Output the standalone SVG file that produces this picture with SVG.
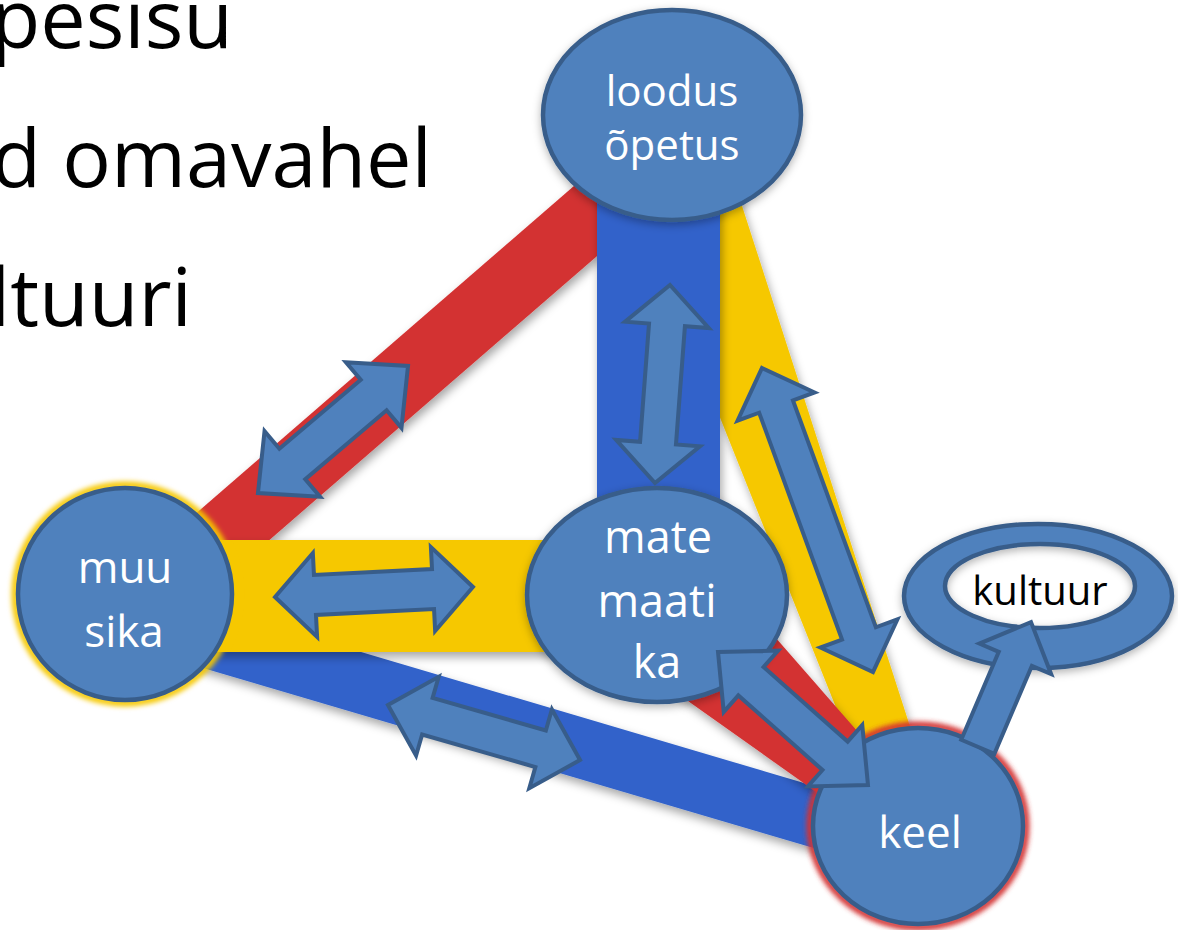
<svg xmlns="http://www.w3.org/2000/svg" width="1178" height="930" viewBox="0 0 1178 930">
<defs>
<style>
.title{font-family:"Open Sans","Liberation Sans",sans-serif;font-size:81px;fill:#000;}
.node{fill:#4F81BD;stroke:#385D8A;stroke-width:4.5;}
.lbl{font-family:"Open Sans","Liberation Sans",sans-serif;fill:#fff;text-anchor:middle;}
.arrow{fill:#4F81BD;stroke:#385D8A;stroke-width:4;stroke-linejoin:miter;}
.red{fill:#D33232;}
.yel{fill:#F6C800;}
.blu{fill:#3162CA;}
</style>
<filter id="shadow" x="-20%" y="-20%" width="140%" height="140%">
<feDropShadow dx="2" dy="5" stdDeviation="5" flood-color="#000" flood-opacity="0.35"/>
</filter>
<filter id="nshadow" x="-20%" y="-20%" width="140%" height="140%">
<feDropShadow dx="0" dy="3" stdDeviation="4" flood-color="#000" flood-opacity="0.3"/>
</filter>
<filter id="glow" x="-20%" y="-20%" width="140%" height="140%">
<feGaussianBlur stdDeviation="2.5"/>
</filter>
</defs>
<rect width="1178" height="930" fill="#fff"/>

<g id="title-text">
<text class="title" x="233" y="48" text-anchor="end">pesisu</text>
<text class="title" x="432" y="187" text-anchor="end">d omavahel</text>
<text class="title" x="192" y="326" text-anchor="end">ltuuri</text>
</g>

<g id="bands">
<polygon class="red" filter="url(#shadow)" points="103,594 657,114 701,166 147,646"/>
<polygon class="blu" filter="url(#shadow)" points="148.5,589 888.5,808 871.5,865 131.5,647"/>
<polygon class="yel" filter="url(#shadow)" points="613,150 724,150 916,745 851,745"/>
<rect class="blu" filter="url(#shadow)" x="597" y="115" width="123" height="480"/>
<polygon class="red" filter="url(#shadow)" points="740,597 900,780 860,823 640,667"/>
<rect class="yel" filter="url(#shadow)" x="125" y="540" width="532" height="112"/>
</g>

<g id="node-loodus">
<ellipse class="node" filter="url(#nshadow)" cx="672" cy="115" rx="129" ry="105"/>
<text class="lbl" font-size="42" x="672" y="106">loodus</text>
<text class="lbl" font-size="42" x="672" y="160">õpetus</text>
</g>

<g id="node-matemaatika">
<ellipse class="node" filter="url(#nshadow)" cx="657" cy="595" rx="130" ry="107"/>
<text class="lbl" font-size="45" x="658" y="553">mate</text>
<text class="lbl" font-size="45" x="657" y="617">maati</text>
<text class="lbl" font-size="45" x="657" y="678">ka</text>
</g>

<g id="node-muusika">
<ellipse cx="125" cy="594" rx="110" ry="109" fill="none" stroke="#F6C800" stroke-width="7" filter="url(#glow)"/>
<ellipse class="node" cx="125" cy="594" rx="107" ry="106"/>
<text class="lbl" font-size="44" x="125" y="583">muu</text>
<text class="lbl" font-size="44" x="124" y="647">sika</text>
</g>

<g id="node-keel">
<ellipse cx="918" cy="826" rx="108" ry="101" fill="none" stroke="#D33232" stroke-width="7" filter="url(#glow)"/>
<ellipse class="node" cx="918" cy="826" rx="105" ry="98"/>
<text class="lbl" font-size="44" x="920" y="848">keel</text>
</g>

<g id="node-kultuur">
<path class="node" fill-rule="evenodd" filter="url(#nshadow)" d="M904,596 a134,72 0 1,0 268,0 a134,72 0 1,0 -268,0 Z M945,586 a95,42 0 1,0 190,0 a95,42 0 1,0 -190,0 Z"/>
<text font-family="'Open Sans','Liberation Sans',sans-serif" font-size="40" fill="#000" text-anchor="middle" x="1040" y="605">kultuur</text>
</g>

<g id="connectors">
<polygon class="arrow" transform="translate(662.5 384) rotate(94.33)" points="-99.3,0 -59.3,-42 -59.3,-18 59.3,-18 59.3,-42 99.3,0 59.3,42 59.3,18 -59.3,18 -59.3,42"/>
<polygon class="arrow" transform="translate(333 429.5) rotate(-40.25)" points="-98.3,0 -53.3,-43 -53.3,-20 53.3,-20 53.3,-43 98.3,0 53.3,43 53.3,20 -53.3,20 -53.3,43"/>
<polygon class="arrow" transform="translate(374 592) rotate(-2.9)" points="-99.1,0 -59.1,-42 -59.1,-20 59.1,-20 59.1,-42 99.1,0 59.1,42 59.1,20 -59.1,20 -59.1,42"/>
<polygon class="arrow" transform="translate(484 732.5) rotate(16)" points="-99.9,0 -58.9,-41 -58.9,-19 58.9,-19 58.9,-41 99.9,0 58.9,41 58.9,19 -58.9,19 -58.9,41"/>
<polygon class="arrow" transform="translate(793 718.5) rotate(41.55)" points="-100.2,0 -56.2,-41 -56.2,-19 56.2,-19 56.2,-41 100.2,0 56.2,41 56.2,19 -56.2,19 -56.2,41"/>
<polygon class="arrow" transform="translate(817.5 520) rotate(69.94)" points="-161.8,0 -120.8,-41 -120.8,-18 120.8,-18 120.8,-41 161.8,0 120.8,41 120.8,18 -120.8,18 -120.8,41"/>
<polygon class="arrow" transform="translate(977.8 746.8) rotate(-66.9)" points="0,-18 95.6,-18 95.6,-39 135.6,0 95.6,39 95.6,18 0,18"/>
</g>
</svg>
